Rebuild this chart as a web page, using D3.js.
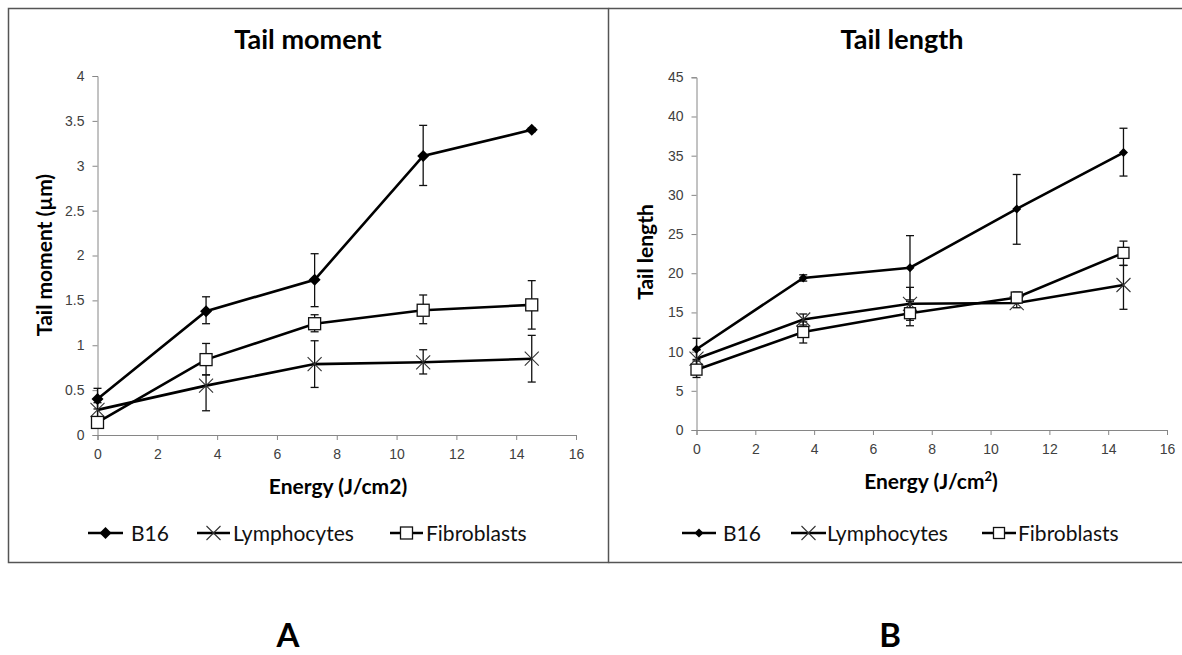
<!DOCTYPE html>
<html>
<head>
<meta charset="utf-8">
<script src="https://cdn.jsdelivr.net/npm/d3@7"></script>
<style>
  body { margin: 0; background: #fff; }
  svg { display: block; font-family: Lato, "Open Sans", sans-serif; }
</style>
</head>
<body>
<svg id="fig" width="1182" height="655"></svg>
<script>
// energy doses (J/cm2)
var energy = [0, 3.63, 7.26, 10.89, 14.52];
var seriesNames = ["B16", "Lymphocytes", "Fibroblasts"];

// Tail moment (µm): mean, lower / upper whisker
var tmB16 = [0.40, 1.38, 1.73, 3.11, 3.40];
var tmB16Lo = [0.29, 1.24, 1.43, 2.78, 3.38];
var tmB16Hi = [0.52, 1.54, 2.02, 3.45, 3.42];
var tmLym = [0.28, 0.55, 0.79, 0.81, 0.85];
var tmLymLo = [0.20, 0.27, 0.53, 0.68, 0.59];
var tmLymHi = [0.36, 0.67, 1.05, 0.95, 1.11];
var tmFib = [0.14, 0.84, 1.24, 1.39, 1.45];
var tmFibLo = [0.08, 0.67, 1.15, 1.24, 1.18];
var tmFibHi = [0.20, 1.02, 1.34, 1.56, 1.72];

// Tail length
var tlB16 = [10.3, 19.4, 20.7, 28.2, 35.4];
var tlB16Lo = [9.0, 19.0, 16.6, 23.7, 32.4];
var tlB16Hi = [11.7, 19.8, 24.8, 32.6, 38.5];
var tlLym = [9.1, 14.1, 16.1, 16.2, 18.5];
var tlLymLo = [8.0, 13.4, 14.0, 15.6, 15.4];
var tlLymHi = [10.2, 14.8, 18.2, 16.8, 21.0];
var tlFib = [7.7, 12.5, 14.9, 16.9, 22.6];
var tlFibLo = [6.7, 11.1, 13.3, 16.2, 21.0];
var tlFibHi = [8.8, 13.8, 16.4, 17.6, 24.1];

var xTicks = [0, 2, 4, 6, 8, 10, 12, 14, 16];
var tmTicks = [0, 0.5, 1, 1.5, 2, 2.5, 3, 3.5, 4];
var tlTicks = [0, 5, 10, 15, 20, 25, 30, 35, 40, 45];

var svg = d3.select("#fig");

// panel frames
svg.append("rect").attr("x", 8.5).attr("y", 8.5).attr("width", 600).attr("height", 554)
  .attr("fill", "none").attr("stroke", "#555").attr("stroke-width", 1.5);
svg.append("path").attr("d", "M608.5,8.5H1183M608.5,562.5H1183")
  .attr("fill", "none").attr("stroke", "#555").attr("stroke-width", 1.5);

function pack(mean, lo, hi) {
  return energy.map(function (e, i) { return {x: e, y: mean[i], lo: lo[i], hi: hi[i]}; });
}

function marker(g, name, big) {
  if (name === "B16") {
    var r = big ? 6 : 4.5;
    g.append("path").attr("d", "M0," + (-r) + "L" + r + ",0L0," + r + "L" + (-r) + ",0Z")
      .attr("fill", "#000");
  } else if (name === "Lymphocytes") {
    var s = 7;
    g.append("path").attr("d", "M" + (-s) + "," + (-s) + "L" + s + "," + s + "M" + (-s) + "," + s + "L" + s + "," + (-s))
      .attr("stroke", "#333").attr("stroke-width", 1.1).attr("fill", "none");
  } else {
    var h = big ? 6 : 5.5;
    g.append("rect").attr("x", -h).attr("y", -h).attr("width", 2 * h).attr("height", 2 * h)
      .attr("fill", "#fff").attr("stroke", "#111").attr("stroke-width", 1.3);
  }
}

function panel(cfg) {
  var x = d3.scaleLinear().domain([0, 16]).range([cfg.x0, cfg.x1]);
  var y = d3.scaleLinear().domain([0, cfg.ymax]).range([cfg.y0, cfg.y1]);
  var g = svg.append("g");

  var xa = g.append("g").attr("transform", "translate(0," + cfg.y0 + ")")
    .call(d3.axisBottom(x).tickValues(xTicks).tickSize(5).tickPadding(9));
  var ya = g.append("g").attr("transform", "translate(" + cfg.x0 + ",0)")
    .call(d3.axisLeft(y).tickValues(cfg.ticks).tickSize(5).tickPadding(8).tickFormat(d3.format("")));
  [xa, ya].forEach(function (a) {
    a.selectAll("path,line").attr("stroke", "#868686");
    a.selectAll("text").attr("fill", "#404040").attr("font-size", 14);
  });

  // titles
  g.append("text").attr("x", cfg.titleX).attr("y", 49).attr("text-anchor", "middle")
    .attr("font-size", 27).attr("font-weight", "bold").text(cfg.title);
  g.append("text").attr("transform", "translate(" + cfg.yTitleX + "," + cfg.yTitleY + ") rotate(-90)")
    .attr("text-anchor", "middle").attr("font-size", 21).attr("font-weight", "bold").text(cfg.yTitle);
  var xt = g.append("text").attr("x", cfg.xTitleX).attr("y", cfg.xTitleY).attr("text-anchor", "middle")
    .attr("font-size", 21).attr("font-weight", "bold");
  if (cfg.sup) {
    xt.append("tspan").text("Energy (J/cm");
    xt.append("tspan").attr("font-size", 13).attr("dy", -8).text("2");
    xt.append("tspan").attr("dy", 8).text(")");
  } else {
    xt.text("Energy (J/cm2)");
  }

  var line = d3.line().x(function (d) { return x(d.x); }).y(function (d) { return y(d.y); });

  // error bars first
  cfg.series.forEach(function (s) {
    s.data.forEach(function (d) {
      var eb = g.append("g").attr("stroke", "#111").attr("stroke-width", 1.3);
      eb.append("line").attr("x1", x(d.x)).attr("x2", x(d.x)).attr("y1", y(d.lo)).attr("y2", y(d.hi));
      eb.append("line").attr("x1", x(d.x) - 4).attr("x2", x(d.x) + 4).attr("y1", y(d.lo)).attr("y2", y(d.lo));
      eb.append("line").attr("x1", x(d.x) - 4).attr("x2", x(d.x) + 4).attr("y1", y(d.hi)).attr("y2", y(d.hi));
    });
  });
  cfg.series.forEach(function (s) {
    g.append("path").datum(s.data).attr("d", line).attr("fill", "none")
      .attr("stroke", "#000").attr("stroke-width", 2.6);
  });
  cfg.series.forEach(function (s) {
    s.data.forEach(function (d) {
      marker(g.append("g").attr("transform", "translate(" + x(d.x) + "," + y(d.y) + ")"), s.name, cfg.big);
    });
  });

  // legend
  cfg.legend.forEach(function (l, i) {
    var name = seriesNames[i];
    var lg = g.append("g");
    lg.append("line").attr("x1", l[0]).attr("x2", l[1]).attr("y1", 533).attr("y2", 533)
      .attr("stroke", "#000").attr("stroke-width", 2.6);
    marker(lg.append("g").attr("transform", "translate(" + ((l[0] + l[1]) / 2) + ",533)"), name, cfg.big);
    lg.append("text").attr("x", l[2]).attr("y", 541).attr("font-size", 21).attr("fill", "#111").text(name);
  });

  // panel letter near the bottom edge, as in the source figure
  svg.append("text").attr("x", cfg.letterX).attr("y", 647).attr("text-anchor", "middle")
    .attr("font-size", 33).attr("font-weight", "bold").text(cfg.letter);
}

panel({
  x0: 97.5, x1: 576, y0: 435, y1: 76, ymax: 4, ticks: tmTicks,
  title: "Tail moment", titleX: 308, yTitle: "Tail moment (\u00b5m)", yTitleX: 52, yTitleY: 255,
  xTitleX: 338, xTitleY: 494, sup: false, big: true, letter: "A", letterX: 288,
  legend: [[88, 123, 131], [197, 230, 233], [390, 423, 426]],
  series: [
    {name: "B16", data: pack(tmB16, tmB16Lo, tmB16Hi)},
    {name: "Lymphocytes", data: pack(tmLym, tmLymLo, tmLymHi)},
    {name: "Fibroblasts", data: pack(tmFib, tmFibLo, tmFibHi)}
  ]
});

panel({
  x0: 696.5, x1: 1167, y0: 430, y1: 77.3, ymax: 45, ticks: tlTicks,
  title: "Tail length", titleX: 902, yTitle: "Tail length", yTitleX: 653, yTitleY: 252,
  xTitleX: 931, xTitleY: 489, sup: true, big: false, letter: "B", letterX: 890,
  legend: [[682, 716, 723], [791, 826, 827], [982, 1016, 1018]],
  series: [
    {name: "B16", data: pack(tlB16, tlB16Lo, tlB16Hi)},
    {name: "Lymphocytes", data: pack(tlLym, tlLymLo, tlLymHi)},
    {name: "Fibroblasts", data: pack(tlFib, tlFibLo, tlFibHi)}
  ]
});
</script>
</body>
</html>
